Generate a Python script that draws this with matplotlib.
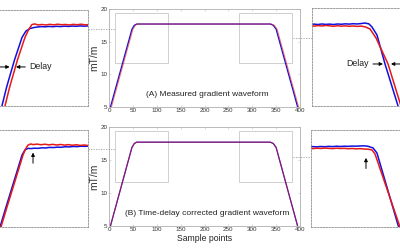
import matplotlib
matplotlib.use('Agg')
import matplotlib.pyplot as plt
from matplotlib.patches import Rectangle
from matplotlib.lines import Line2D

plt.rcParams['font.family'] = ['Liberation Sans', 'DejaVu Sans']

# main waveform (sample points, mT/m)
main_x = [3, 48, 53, 58, 338, 344, 350, 395]
main_y = [5, 16.9, 17.5, 17.7, 17.7, 17.5, 16.9, 5]
main_red_x_a = [5, 50, 55, 60, 340, 346, 352, 397]   # measured: red lags blue
main_red_x_b = [3, 48, 53, 58, 338, 344, 350, 395]   # corrected

xticks = [0, 50, 100, 150, 200, 250, 300, 350, 400]
yticks = [5, 10, 15, 20]

# zoomed views, (A) measured
tl_blue_x = [28, 31.9, 37, 45, 52.7, 56.7, 60.8, 64.9, 68, 72, 76, 80, 84, 88, 92, 96, 100, 104, 108, 112, 116, 122]
tl_blue_y = [10.6, 11.42, 12.95, 15.0, 16.72, 17.2, 17.39, 17.47, 17.50, 17.54, 17.52, 17.55, 17.53, 17.56, 17.54,
             17.57, 17.55, 17.58, 17.56, 17.59, 17.57, 17.60]
tl_red_x = [31, 35, 40.1, 48, 55.7, 59.8, 62.9, 65.9, 69, 73, 77, 81, 85, 89, 93, 97, 101, 105, 109, 113, 117, 122]
tl_red_y = [10.6, 11.42, 12.95, 15.0, 16.72, 17.36, 17.7, 17.74, 17.66, 17.70, 17.66, 17.71, 17.67, 17.72, 17.68,
            17.70, 17.66, 17.71, 17.68, 17.72, 17.67, 17.70]

tr_blue_x = [298, 302, 306, 310, 314, 318, 322, 326, 330, 334, 338, 342, 346, 350, 354, 358, 361.2, 366.3, 374.5, 387.8, 391]
tr_blue_y = [17.58, 17.60, 17.57, 17.61, 17.58, 17.60, 17.57, 17.61, 17.59, 17.62, 17.60, 17.63, 17.61, 17.64, 17.68,
             17.62, 17.39, 16.79, 14.63, 11.5, 10.8]
tr_red_x = [298, 302, 306, 310, 314, 318, 322, 326, 330, 334, 338, 342, 346, 350, 354, 359.2, 365.3, 377.6, 390.8, 394]
tr_red_y = [17.48, 17.45, 17.49, 17.46, 17.50, 17.47, 17.44, 17.48, 17.45, 17.47, 17.44, 17.46, 17.43, 17.45, 17.40,
            17.24, 16.57, 14.63, 11.5, 10.8]

# zoomed views, (B) corrected
bl_blue_x = [28, 30.2, 37, 45.5, 52.7, 55.7, 58.8, 62, 65, 69, 73, 77, 81, 85, 89, 93, 97, 101, 105, 109, 113, 117, 122]
bl_blue_y = [10.9, 11.5, 13.16, 15.19, 16.92, 17.3, 17.42, 17.40, 17.43, 17.42, 17.46, 17.45, 17.49, 17.48, 17.51,
             17.50, 17.54, 17.53, 17.56, 17.55, 17.58, 17.57, 17.60]
bl_red_x = [29, 31.2, 38, 46.5, 53.7, 56.5, 58.8, 61.8, 64, 68, 72, 76, 80, 84, 88, 92, 96, 100, 104, 108, 112, 116, 122]
bl_red_y = [10.9, 11.5, 13.16, 15.19, 16.92, 17.4, 17.67, 17.75, 17.70, 17.74, 17.69, 17.73, 17.68, 17.72, 17.67,
            17.71, 17.66, 17.70, 17.65, 17.69, 17.64, 17.67, 17.62]

br_blue_x = [298, 302, 306, 310, 314, 318, 322, 326, 330, 334, 338, 342, 346, 350, 354, 358, 363.3, 367.3, 388.8, 391.8]
br_blue_y = [17.52, 17.55, 17.53, 17.56, 17.54, 17.57, 17.55, 17.58, 17.56, 17.58, 17.57, 17.59, 17.58, 17.60, 17.61,
             17.58, 17.45, 17.07, 11.65, 10.97]
br_red_x = [298, 302, 306, 310, 314, 318, 322, 326, 330, 334, 338, 342, 346, 350, 354, 358, 362.2, 365.3, 390.8, 392.9]
br_red_y = [17.42, 17.40, 17.43, 17.41, 17.44, 17.42, 17.40, 17.43, 17.41, 17.42, 17.39, 17.41, 17.38, 17.40, 17.37,
            17.36, 17.30, 17.0, 11.5, 10.97]

BLUE = '#1010e0'
RED = '#e81818'
GREY = '#a0a0a0'

fig = plt.figure(figsize=(4, 2.5), dpi=100)


def main_axes(rect, red_x, title):
    ax = fig.add_axes(rect)
    ax.plot(main_x, main_y, color=BLUE, lw=0.9)
    ax.plot(red_x, main_y, color=RED, lw=0.8, alpha=0.6)
    ax.set_xlim(0, 400)
    ax.set_ylim(5, 20)
    ax.set_xticks(xticks)
    ax.set_yticks(yticks)
    ax.tick_params(labelsize=4.5, direction='in', length=1.5, width=0.4, pad=1,
                   colors='#bbbbbb', labelcolor='#333333', top=True, right=True)
    for s in ax.spines.values():
        s.set_color('#b0b0b0')
        s.set_linewidth(0.6)
    ax.set_ylabel('mT/m', fontsize=7.5, labelpad=1.2, color='#333333')
    ax.text(205, 6.9, title, fontsize=6.0, ha='center', va='center', color='#222222')
    # zoom boxes
    ax.add_patch(Rectangle((12.6, 11.7), 111, 7.7, fill=False, ec='#c8c8c8', lw=0.6))
    ax.add_patch(Rectangle((272, 11.7), 111, 7.7, fill=False, ec='#c8c8c8', lw=0.6))
    return ax


def inset(rect, bx, by, rx, ry, xlim):
    ax = fig.add_axes(rect)
    ax.plot(bx, by, color=BLUE, lw=1.1)
    ax.plot(rx, ry, color=RED, lw=1.1)
    ax.set_xlim(*xlim)
    ax.set_ylim(11.5, 18.8)
    ax.set_xticks([])
    ax.set_yticks([])
    for s in ax.spines.values():
        s.set_color('#909090')
        s.set_linewidth(0.6)
        s.set_linestyle((0, (2, 1.5)))
    return ax


ax_a = main_axes([0.2725, 0.572, 0.4775, 0.392], main_red_x_a, '(A) Measured gradient waveform')
ax_b = main_axes([0.2725, 0.096, 0.4775, 0.396], main_red_x_b, '(B) Time-delay corrected gradient waveform')
ax_b.set_xlabel('Sample points', fontsize=6.2, labelpad=1, color='#222222')

tl = inset([-0.025, 0.576, 0.245, 0.384], tl_blue_x, tl_blue_y, tl_red_x, tl_red_y, (20, 120))
tr = inset([0.78, 0.576, 0.245, 0.392], tr_blue_x, tr_blue_y, tr_red_x, tr_red_y, (300, 400))
bl = inset([-0.025, 0.092, 0.245, 0.388], bl_blue_x, bl_blue_y, bl_red_x, bl_red_y, (20, 120))
br = inset([0.7775, 0.092, 0.245, 0.388], br_blue_x, br_blue_y, br_red_x, br_red_y, (300, 400))

arw = dict(arrowstyle='-|>', lw=0.7, color='black', mutation_scale=5, shrinkA=0, shrinkB=0)
tl.annotate('', xy=(40.0, 14.47), xytext=(28, 14.47), arrowprops=arw)
tl.annotate('', xy=(46.5, 14.47), xytext=(56, 14.47), arrowprops=arw)
tl.text(59.8, 14.47, 'Delay', fontsize=6.3, va='center', ha='left', color='#222222')

tr.annotate('', xy=(372.4, 14.63), xytext=(362.2, 14.63), arrowprops=arw)
tr.annotate('', xy=(380.6, 14.63), xytext=(392, 14.63), arrowprops=arw)
tr.text(346, 14.63, 'Delay', fontsize=6.3, va='center', ha='center', color='#222222')

bl.annotate('', xy=(63.9, 17.1), xytext=(63.9, 16.3), arrowprops=arw)
br.annotate('', xy=(356.1, 16.7), xytext=(356.1, 15.9), arrowprops=arw)

# dotted connectors between zoom boxes and insets
for (x0, x1, y) in [(88, 115, 29), (293, 312, 38), (88, 115, 149), (293, 311, 157)]:
    fig.add_artist(Line2D([x0 / 400, x1 / 400], [1 - y / 250, 1 - y / 250], color=GREY, lw=0.6,
                          linestyle=(0, (1.5, 1.5)), transform=fig.transFigure))

fig.savefig('out.png', dpi=100)
